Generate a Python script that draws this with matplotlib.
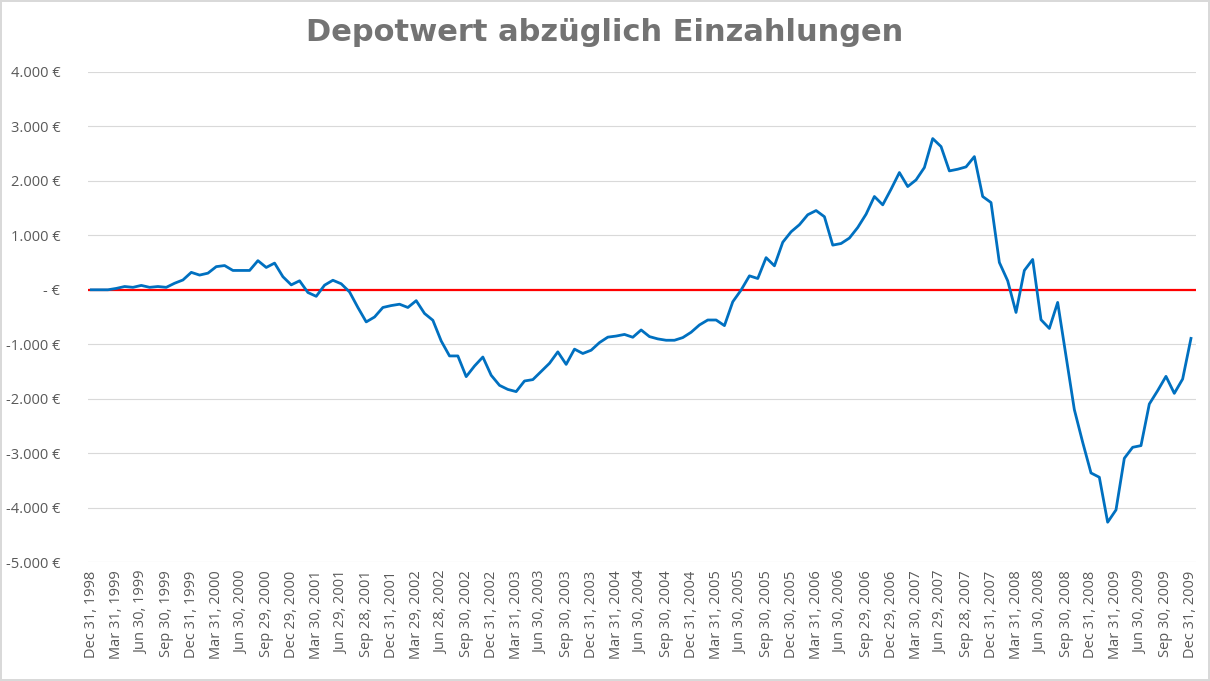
import matplotlib
matplotlib.use("Agg")
import matplotlib.pyplot as plt
from matplotlib.ticker import FuncFormatter, MultipleLocator

# monthly values, Dec 1998 .. Dec 2009 (euro)
werte = [
    0, 0, 0, 25, 60, 45, 80, 45, 60, 45, 120, 180,
    320, 270, 305, 425, 445, 355, 355, 355, 535, 410, 490, 240,
    90, 165, -50, -120, 85, 175, 110, -40, -325, -590, -500, -325,
    -290, -265, -325, -200, -435, -560, -940, -1215, -1215, -1595, -1400, -1235,
    -1570, -1755, -1830, -1870, -1675, -1650, -1500, -1350, -1140, -1370, -1090, -1170,
    -1110, -970, -870, -850, -820, -872, -738, -860, -902, -927, -927, -878,
    -780, -646, -555, -555, -658, -220, -5, 256, 207, 590, 440, 873,
    1065, 1195, 1378, 1455, 1342, 820, 850, 950, 1144, 1388, 1713, 1560,
    1847, 2153, 1896, 2018, 2245, 2777, 2630, 2183, 2214, 2257, 2446, 1713,
    1602, 502, 165, -416, 355, 557, -550, -710, -232, -1211, -2200, -2800,
    -3364, -3443, -4269, -4043, -3095, -2893, -2862, -2098, -1853, -1590, -1902, -1639,
    -893,
]

# quarterly axis labels
datum_labels = [
    "Dec 31, 1998", "Mar 31, 1999", "Jun 30, 1999", "Sep 30, 1999",
    "Dec 31, 1999", "Mar 31, 2000", "Jun 30, 2000", "Sep 29, 2000",
    "Dec 29, 2000", "Mar 30, 2001", "Jun 29, 2001", "Sep 28, 2001",
    "Dec 31, 2001", "Mar 29, 2002", "Jun 28, 2002", "Sep 30, 2002",
    "Dec 31, 2002", "Mar 31, 2003", "Jun 30, 2003", "Sep 30, 2003",
    "Dec 31, 2003", "Mar 31, 2004", "Jun 30, 2004", "Sep 30, 2004",
    "Dec 31, 2004", "Mar 31, 2005", "Jun 30, 2005", "Sep 30, 2005",
    "Dec 30, 2005", "Mar 31, 2006", "Jun 30, 2006", "Sep 29, 2006",
    "Dec 29, 2006", "Mar 30, 2007", "Jun 29, 2007", "Sep 28, 2007",
    "Dec 31, 2007", "Mar 31, 2008", "Jun 30, 2008", "Sep 30, 2008",
    "Dec 31, 2008", "Mar 31, 2009", "Jun 30, 2009", "Sep 30, 2009",
    "Dec 31, 2009",
]

plt.rcParams['font.family'] = ['Open Sans', 'DejaVu Sans']
grau = "#595959"

fig = plt.figure(figsize=(12.1, 6.81), dpi=100)
fig.patch.set_edgecolor("#d9d9d9")
fig.patch.set_linewidth(1.5)
ax = fig.add_axes([0.0727, 0.1747, 0.9157, 0.7196])

x = list(range(len(werte)))
ax.plot(x, werte, color="#0070C0", linewidth=2.0, zorder=3)
ax.axhline(0, color="#FF0000", linewidth=1.6, zorder=2)

ax.set_ylim(-5000, 4000)
ax.set_xlim(-0.4, len(werte) - 1 + 0.6)
ax.yaxis.set_major_locator(MultipleLocator(1000))


def euro(v, pos):
    if v == 0:
        return "- €"
    return "{:,.0f} €".format(v).replace(",", ".")


ax.yaxis.set_major_formatter(FuncFormatter(euro))
ax.set_xticks(x[::3])
ax.set_xticklabels(datum_labels, rotation=90)

ax.grid(axis="y", color="#d9d9d9", linewidth=0.8, zorder=0)
ax.set_axisbelow(True)
for s in ax.spines.values():
    s.set_visible(False)
ax.tick_params(axis="both", length=0, labelsize=10.5, colors=grau)
ax.tick_params(axis="y", pad=20)
ax.tick_params(axis="x", pad=6)

fig.text(0.5, 0.9398, "Depotwert abzüglich Einzahlungen", ha="center", va="baseline",
         fontsize=22, fontweight="bold", color="#737373", family="DejaVu Sans")

fig.savefig("out.png", dpi=100, edgecolor=fig.get_edgecolor())
